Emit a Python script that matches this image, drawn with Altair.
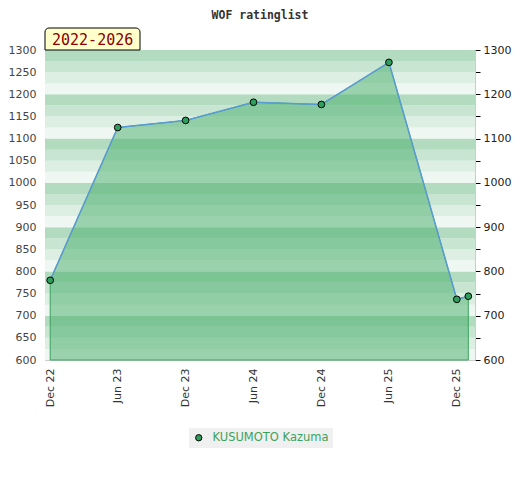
import altair as alt
import pandas as pd

# ---- data ----
chart_title = "WOF ratinglist"
period_label = "2022-2026"
player = "KUSUMOTO Kazuma"
list_dates = ["2022-12-01", "2023-06-01", "2023-12-01", "2024-06-01",
              "2024-12-01", "2025-06-01", "2025-12-01", "2026-01-01"]
ratings = [780, 1125, 1141, 1182, 1177, 1272, 737, 744]
x_tick_dates = [(2022, 12), (2023, 6), (2023, 12), (2024, 6),
                (2024, 12), (2025, 6), (2025, 12)]
y_domain = [600, 1300]
y_ticks = [600, 650, 700, 750, 800, 850, 900, 950, 1000, 1050,
           1100, 1150, 1200, 1250, 1300]
band_lows = [600, 625, 650, 675, 700, 725, 750, 775, 800, 825, 850, 875,
             900, 925, 950, 975, 1000, 1025, 1050, 1075, 1100, 1125, 1150,
             1175, 1200, 1225, 1250, 1275]
band_colors = ["#eef7f1", "#ddeee3", "#c8e5d2", "#b2dbbf"]

df = pd.DataFrame({"date": list_dates, "rating": ratings, "player": player})
bands = pd.DataFrame({
    "lo": band_lows,
    "hi": [b + 25 for b in band_lows],
    "shade": [(b % 100) // 25 for b in band_lows],
})
label_df = pd.DataFrame({"t": [period_label]})

W, H = 430, 310
FONT = "DejaVu Sans"
MONO = "DejaVu Sans Mono"

xscale = alt.Scale(type="utc", domain=[
    alt.DateTime(year=2022, month=11, date=17, utc=True),
    alt.DateTime(year=2026, month=1, date=19, utc=True)])
yscale = alt.Scale(domain=y_domain, zero=False, nice=False)

x_axis = alt.Axis(
    title=None, values=[alt.DateTime(year=y, month=m, date=1, utc=True) for y, m in x_tick_dates],
    labelExpr="utcFormat(datum.value, '%b %y')", labelAngle=270, ticks=False, grid=False,
    labelPadding=8, labelFont=FONT, labelFontSize=11, labelColor="#333333",
    domainColor="#cccccc")
left_axis = alt.Axis(
    title=None, values=y_ticks, format="d", ticks=False, grid=False, labelPadding=9,
    labelFont=FONT, labelFontSize=11, labelColor="#444444", domainColor="#cccccc")
right_axis = alt.Axis(
    title=None, orient="right", values=y_ticks, format="d", ticks=True, tickSize=5,
    tickColor="black", grid=False, labelPadding=3,
    labelExpr="datum.value % 100 == 0 ? datum.label : ''",
    labelFont=FONT, labelFontSize=11, labelColor="#222222", domainColor="#cccccc")

stripes = alt.Chart(bands).mark_rect().encode(
    y=alt.Y("lo:Q", scale=yscale, axis=None),
    y2="hi:Q",
    color=alt.Color("shade:O", scale=alt.Scale(domain=[0, 1, 2, 3], range=band_colors), legend=None),
)

base = alt.Chart(df)
area = base.mark_area(fill="#45ae6a", fillOpacity=0.5, stroke="#3aa35e", strokeWidth=1).encode(
    x=alt.X("date:T", scale=xscale, axis=x_axis),
    y=alt.Y("rating:Q", scale=yscale, axis=left_axis),
    y2=alt.datum(y_domain[0]),
)
line = base.mark_line(color="#5b9bd5", strokeWidth=1.5).encode(
    x=alt.X("date:T", scale=xscale, axis=x_axis),
    y=alt.Y("rating:Q", scale=yscale, axis=right_axis),
)
points = base.mark_circle(size=45, stroke="black", strokeWidth=1, opacity=1).encode(
    x=alt.X("date:T", scale=xscale, axis=x_axis),
    y=alt.Y("rating:Q", scale=yscale, axis=None),
    fill=alt.Fill("player:N", scale=alt.Scale(range=["#2f9e5c"]), legend=alt.Legend(
        title=None, orient="none", legendX=144, legendY=378, fillColor="#f0f0f0",
        padding=4, symbolType="circle", symbolSize=40, symbolStrokeColor="black",
        symbolStrokeWidth=1, labelColor="#3aa35e", labelFont=FONT, labelFontSize=11.5,
        labelOffset=8)),
)

box = alt.Chart(label_df).mark_rect(
    fill="#ffffcc", stroke="black", strokeWidth=1,
    cornerRadiusTopLeft=4, cornerRadiusTopRight=4).encode(
    x=alt.value(0), x2=alt.value(95), y=alt.value(-22), y2=alt.value(0))
box_text = alt.Chart(label_df).mark_text(
    font=MONO, fontSize=15, color="#8b0000", align="left", baseline="middle").encode(
    x=alt.value(7), y=alt.value(-10), text="t:N")

chart = alt.layer(stripes, area, line, points, box, box_text).resolve_scale(
    y="shared").resolve_axis(y="independent").properties(
    width=W, height=H,
    title=alt.TitleParams(chart_title, font=MONO, fontSize=11.5, fontWeight="bold",
                          color="#333333", anchor="middle", baseline="alphabetic",
                          offset=-3),
    autosize=alt.AutoSizeParams(type="none"),
    padding={"left": 37, "top": 42, "right": 37, "bottom": 100},
).configure_view(stroke="#cccccc", strokeWidth=1)

chart.save("out.html", embed_options={"renderer": "svg", "actions": False})
